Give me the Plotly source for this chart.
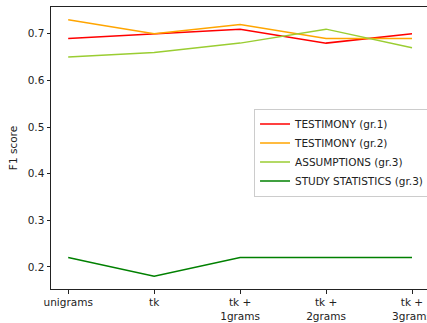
import plotly.graph_objects as go

# Feature sets on the x axis
categories = ["unigrams", "tk", "tk +<br>1grams", "tk +<br>2grams", "tk +<br>3grams"]

# F1 score per feature set for each category
testimony_gr1 = [0.69, 0.70, 0.71, 0.68, 0.70]
testimony_gr2 = [0.73, 0.70, 0.72, 0.69, 0.69]
assumptions_gr3 = [0.65, 0.66, 0.68, 0.71, 0.67]
study_statistics_gr3 = [0.22, 0.18, 0.22, 0.22, 0.22]

series = [
    ("TESTIMONY (gr.1)", testimony_gr1, "red"),
    ("TESTIMONY (gr.2)", testimony_gr2, "orange"),
    ("ASSUMPTIONS (gr.3)", assumptions_gr3, "yellowgreen"),
    ("STUDY STATISTICS (gr.3)", study_statistics_gr3, "green"),
]

xpos = list(range(len(categories)))

fig = go.Figure()
for name, values, color in series:
    fig.add_trace(go.Scatter(
        x=xpos, y=values, mode="lines", name=name,
        line=dict(color=color, width=1.5),
    ))

font = dict(family="DejaVu Sans", size=10.5, color="#222")

fig.update_layout(
    width=427, height=323, autosize=False,
    margin=dict(l=51, r=0, t=7, b=34, autoexpand=False),
    paper_bgcolor="white", plot_bgcolor="white",
    font=font,
    showlegend=True,
    legend=dict(
        x=0.54, y=0.64, xanchor="left", yanchor="top",
        bgcolor="rgba(255,255,255,0.8)", bordercolor="#cccccc", borderwidth=1,
        font=font,
        tracegroupgap=0, itemwidth=30,
    ),
    xaxis=dict(
        tickmode="array", tickvals=xpos, ticktext=categories,
        range=[-0.2, 4.1744],
        ticklabeloverflow="allow", automargin=False,
        showgrid=False, zeroline=False,
        showline=True, linecolor="#222", linewidth=1, mirror=True,
        ticks="outside", ticklen=3.5, tickcolor="#222", tickwidth=1,
    ),
    yaxis=dict(
        title=dict(text="F1 score", font=font, standoff=8),
        range=[0.1525, 0.7575], automargin=False,
        tickvals=[0.2, 0.3, 0.4, 0.5, 0.6, 0.7],
        ticktext=["0.2", "0.3", "0.4", "0.5", "0.6", "0.7"],
        showgrid=False, zeroline=False,
        showline=True, linecolor="#222", linewidth=1, mirror=False,
        ticks="outside", ticklen=3.5, tickcolor="#222", tickwidth=1,
    ),
)

fig.write_html("out.html")
